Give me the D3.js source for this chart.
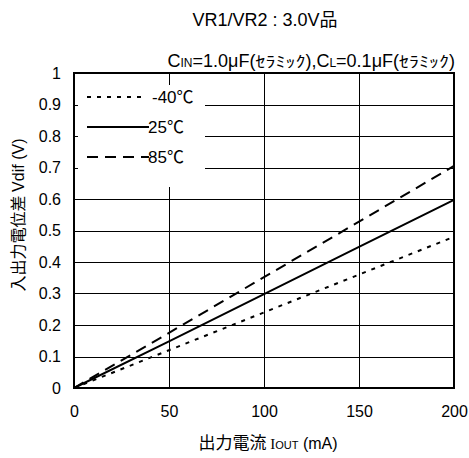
<!DOCTYPE html>
<html>
<head>
<meta charset="utf-8">
<script src="https://cdn.jsdelivr.net/npm/d3@7/dist/d3.min.js"></script>
<style>
  body { margin: 0; background: #fff; }
  svg text { fill: #000; }
</style>
</head>
<body>
<svg id="chart" width="469" height="458" font-family="Liberation Sans, Arial, Noto Sans CJK JP, sans-serif"></svg>
<script>
// Output current (mA) and input-output voltage difference (V) per temperature
const currents = [0, 50, 100, 150, 200];
const vdifM40 = [0, 0.12, 0.24, 0.36, 0.48];
const vdif25 = [0, 0.148, 0.298, 0.448, 0.597];
const vdif85 = [0, 0.175, 0.352, 0.528, 0.705];
const seriesNames = ["-40℃", "25℃", "85℃"];
const xTicks = [0, 50, 100, 150, 200];
const yTicks = [0, 0.1, 0.2, 0.3, 0.4, 0.5, 0.6, 0.7, 0.8, 0.9, 1];

const svg = d3.select("#chart");
const plotL = 74, plotR = 454, plotT = 73, plotB = 388;
const fs = 16;

const x = d3.scaleLinear().domain([0, 200]).range([plotL, plotR]);
const y = d3.scaleLinear().domain([0, 1]).range([plotB, plotT]);

// grid
const g = svg.append("g");
g.selectAll("line.h").data(yTicks).join("line")
  .attr("x1", plotL).attr("x2", plotR)
  .attr("y1", d => Math.round(y(d)) + 0.5).attr("y2", d => Math.round(y(d)) + 0.5)
  .attr("stroke", "#000").attr("stroke-width", 1);
g.selectAll("line.v").data(xTicks).join("line")
  .attr("y1", plotT).attr("y2", plotB)
  .attr("x1", d => Math.round(x(d)) + 0.5).attr("x2", d => Math.round(x(d)) + 0.5)
  .attr("stroke", "#000").attr("stroke-width", 1);

// axes (labels only)
const xAxis = svg.append("g").attr("transform", `translate(0,${plotB})`)
  .call(d3.axisBottom(x).tickValues(xTicks).tickSize(0).tickPadding(18).tickFormat(d3.format("d")));
const yAxis = svg.append("g").attr("transform", `translate(${plotL},0)`)
  .call(d3.axisLeft(y).tickValues(yTicks).tickSize(0).tickPadding(13).tickFormat(d => d === 0 || d === 1 ? d3.format("d")(d) : d3.format(".1f")(d)));
[xAxis, yAxis].forEach(a => {
  a.select(".domain").remove();
  a.selectAll("text").attr("font-size", fs).attr("font-family", "Liberation Sans, Arial, sans-serif");
});

// data lines
const styles = [
  { data: vdifM40, dash: "4,6" },
  { data: vdif25, dash: null },
  { data: vdif85, dash: "11,7" }
];
const line = d3.line().x((d, i) => x(currents[i])).y(d => y(d));
svg.selectAll("path.series").data(styles).join("path")
  .attr("class", "series")
  .attr("d", s => line(s.data))
  .attr("fill", "none").attr("stroke", "#000").attr("stroke-width", 2)
  .attr("stroke-dasharray", s => s.dash);

// legend
const lg = svg.append("g");
lg.append("rect").attr("x", 78).attr("y", 85).attr("width", 127).attr("height", 102).attr("fill", "#fff");
const legendY = [97, 127, 157];
styles.forEach((s, i) => {
  lg.append("line").attr("x1", 87).attr("x2", i === 0 ? 143 : 149)
    .attr("y1", legendY[i]).attr("y2", legendY[i])
    .attr("stroke", "#000").attr("stroke-width", 2).attr("stroke-dasharray", s.dash);
  lg.append("text").attr("x", i === 0 ? 152 : 148).attr("y", legendY[i] + 6)
    .attr("font-size", 17).text(seriesNames[i]);
});

// frame
svg.append("rect").attr("x", plotL).attr("y", plotT).attr("width", plotR - plotL).attr("height", plotB - plotT)
  .attr("fill", "none").attr("stroke", "#000").attr("stroke-width", 2);

// titles
svg.append("text").attr("x", 265).attr("y", 26).attr("text-anchor", "middle").attr("font-size", 18)
  .text("VR1/VR2 : 3.0V品");

// condition line, built left to right from its right edge
const sub = svg.append("text").attr("x", 455).attr("y", 67).attr("text-anchor", "end").attr("font-size", 18);
const kana = t => sub.append("tspan").attr("font-size", 15)
  .attr("textLength", 50).attr("lengthAdjust", "spacingAndGlyphs").text(t);
sub.append("tspan").text("C");
sub.append("tspan").attr("font-size", 12).text("IN");
sub.append("tspan").text("=1.0μF(");
kana("ｾﾗﾐｯｸ");
sub.append("tspan").text("),C");
sub.append("tspan").attr("font-size", 12).text("L");
sub.append("tspan").text("=0.1μF(");
kana("ｾﾗﾐｯｸ");
sub.append("tspan").text(")");

const xt = svg.append("text").attr("x", 268).attr("y", 449).attr("text-anchor", "middle").attr("font-size", 17);
xt.append("tspan").attr("font-family", "Noto Sans CJK JP").text("出力電流  ");
xt.append("tspan").attr("font-family", "Liberation Serif").attr("font-size", 15).text("I");
xt.append("tspan").attr("font-size", 11).text("OUT");
xt.append("tspan").attr("font-size", 16).text(" (mA)");

const yt = svg.append("text").attr("transform", "translate(24,215) rotate(-90)")
  .attr("text-anchor", "middle").attr("font-size", 16);
yt.append("tspan").attr("font-family", "Noto Sans CJK JP").text("入出力電位差  ");
yt.append("tspan").text("Vdif (V)");
</script>
</body>
</html>
